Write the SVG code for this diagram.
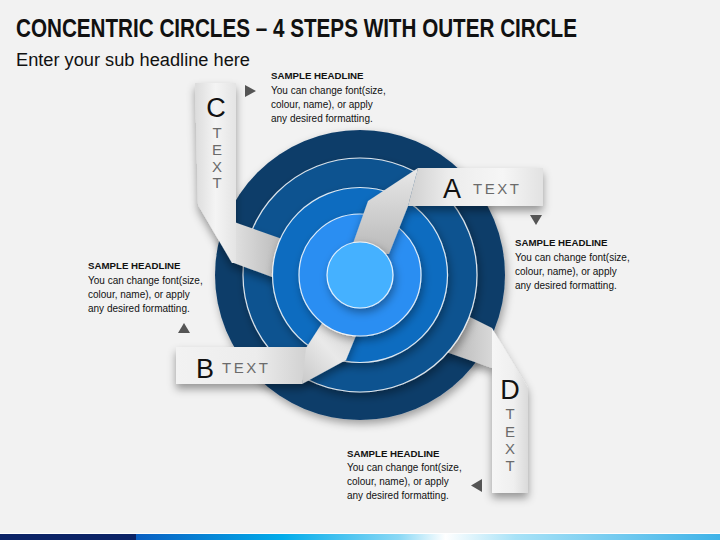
<svg xmlns="http://www.w3.org/2000/svg" width="720" height="540" viewBox="0 0 720 540">
<style>
.title{font-family:"Liberation Sans",Arial,sans-serif;font-weight:bold;font-size:25px;fill:#111}
.sub{font-family:"Liberation Sans",Arial,sans-serif;font-size:18px;fill:#111}
.hd{font-family:"Liberation Sans",Arial,sans-serif;font-weight:bold;font-size:9.7px;fill:#111}
.bd{font-family:"Liberation Sans",Arial,sans-serif;font-size:10px;fill:#111}
.big{font-family:"Liberation Sans",Arial,sans-serif;font-size:27px;fill:#111}
.tx{font-family:"Liberation Sans",Arial,sans-serif;font-size:15px;fill:#6b6b6b;letter-spacing:2.5px}
.vt{font-family:"Liberation Sans",Arial,sans-serif;font-size:15px;fill:#6b6b6b;text-anchor:middle}
.ring{stroke:#ffffff;stroke-width:1.2;stroke-opacity:0.85}
.tri{fill:#555555}
</style>
<defs>
<filter id="cshadow" x="-20%" y="-20%" width="140%" height="150%">
<feDropShadow dx="2" dy="4" stdDeviation="4" flood-color="#000" flood-opacity="0.35"/>
</filter>
<filter id="sshadow" x="-30%" y="-30%" width="160%" height="170%">
<feDropShadow dx="0" dy="5" stdDeviation="4" flood-color="#000" flood-opacity="0.38"/>
</filter>
<linearGradient id="gH" x1="0" y1="0" x2="1" y2="0">
<stop offset="0" stop-color="#cfcfcf"/><stop offset="0.3" stop-color="#ececec"/><stop offset="0.7" stop-color="#f6f6f6"/><stop offset="1" stop-color="#e2e2e2"/>
</linearGradient>
<linearGradient id="gHB" x1="0" y1="0" x2="1" y2="0">
<stop offset="0" stop-color="#f2f2f2"/><stop offset="0.6" stop-color="#ececec"/><stop offset="1" stop-color="#cfcfcf"/>
</linearGradient>
<linearGradient id="gV" x1="0" y1="0" x2="1" y2="0">
<stop offset="0" stop-color="#dcdcdc"/><stop offset="0.5" stop-color="#f4f4f4"/><stop offset="1" stop-color="#e4e4e4"/>
</linearGradient>
<linearGradient id="gVD" x1="0" y1="0" x2="1" y2="0">
<stop offset="0" stop-color="#f6f6f6"/><stop offset="0.6" stop-color="#efefef"/><stop offset="1" stop-color="#dadada"/>
</linearGradient>
<linearGradient id="gDiag" x1="0" y1="0" x2="0" y2="1">
<stop offset="0" stop-color="#e8e8e8"/><stop offset="1" stop-color="#b9b9b9"/>
</linearGradient>
<linearGradient id="gDiagB" x1="0" y1="1" x2="1" y2="0">
<stop offset="0" stop-color="#c9c9c9"/><stop offset="0.5" stop-color="#e9e9e9"/><stop offset="1" stop-color="#d0d0d0"/>
</linearGradient>
<linearGradient id="gConn" x1="0" y1="0" x2="1" y2="0">
<stop offset="0" stop-color="#e0e0e0"/><stop offset="1" stop-color="#b8b8b8"/>
</linearGradient>
<linearGradient id="gConnD" x1="1" y1="0" x2="0" y2="0">
<stop offset="0" stop-color="#d8d8d8"/><stop offset="1" stop-color="#b5b5b5"/>
</linearGradient>
<linearGradient id="gBar" x1="0" y1="0" x2="1" y2="0">
<stop offset="0" stop-color="#0a5fc2"/><stop offset="0.25" stop-color="#02acea"/><stop offset="0.45" stop-color="#8ad8f5"/><stop offset="0.53" stop-color="#ffffff"/><stop offset="0.65" stop-color="#a8e2f7"/><stop offset="1" stop-color="#3fb3e8"/>
</linearGradient>
</defs>

<rect x="0" y="0" width="720" height="540" fill="#f2f2f2"/>

<g id="header">
<text class="title" x="16" y="37" textLength="561" lengthAdjust="spacingAndGlyphs">CONCENTRIC CIRCLES – 4 STEPS WITH OUTER CIRCLE</text>
<text class="sub" x="16" y="66" textLength="234" lengthAdjust="spacingAndGlyphs">Enter your sub headline here</text>
</g>

<g id="ring-1"><circle cx="360" cy="275" r="145" fill="#0b3c69" filter="url(#cshadow)"/></g>

<g id="node-D">
<g filter="url(#sshadow)">
<polygon points="466,315 492,328 492,368 446,352" fill="url(#gConnD)"/>
<polygon points="492,328 528,388 528,493 492,493" fill="url(#gVD)"/>
</g>
<text class="big" x="510" y="399" text-anchor="middle" font-size="26">D</text>
<text class="vt" x="510" y="419">T</text>
<text class="vt" x="510" y="437">E</text>
<text class="vt" x="510" y="454">X</text>
<text class="vt" x="510" y="471">T</text>
<text class="hd" x="347" y="457">SAMPLE HEADLINE</text>
<text class="bd" x="347" y="471">You can change font(size,<tspan x="347" dy="14.2">colour, name), or apply</tspan><tspan x="347" dy="14.2">any desired formatting.</tspan></text>
</g>

<g id="ring-2"><circle class="ring" cx="360" cy="275" r="117" fill="#0d5390" filter="url(#cshadow)"/></g>

<g id="node-C">
<g filter="url(#sshadow)">
<polygon points="234,222 285,240 280,280 234,263" fill="url(#gConn)"/>
<polygon points="195,83 236,83 236,263 232,263 198,205" fill="url(#gV)"/>
</g>
<text class="big" x="216" y="117" text-anchor="middle">C</text>
<text class="vt" x="217" y="138">T</text>
<text class="vt" x="217" y="155">E</text>
<text class="vt" x="217" y="171.5">X</text>
<text class="vt" x="217" y="188">T</text>
<text class="hd" x="271" y="79">SAMPLE HEADLINE</text>
<text class="bd" x="271" y="94">You can change font(size,<tspan x="271" dy="14.2">colour, name), or apply</tspan><tspan x="271" dy="14.2">any desired formatting.</tspan></text>
</g>

<g id="ring-3"><circle class="ring" cx="360" cy="275" r="87.5" fill="#0b6cc0" filter="url(#cshadow)"/></g>

<g id="node-B">
<g filter="url(#sshadow)">
<polygon points="176,347 310,347 302,384 176,384" fill="url(#gHB)"/>
<polygon points="306,348 324,320 360,326 346,360 302,384" fill="url(#gDiagB)"/>
</g>
<text class="big" x="196" y="378" font-size="26">B</text>
<text class="tx" x="222" y="373">TEXT</text>
<text class="hd" x="88" y="269">SAMPLE HEADLINE</text>
<text class="bd" x="88" y="284">You can change font(size,<tspan x="88" dy="14.2">colour, name), or apply</tspan><tspan x="88" dy="14.2">any desired formatting.</tspan></text>
</g>

<g id="ring-4"><circle class="ring" cx="360" cy="275" r="61" fill="#2b8ef2" filter="url(#cshadow)"/></g>

<g id="node-A">
<g filter="url(#sshadow)">
<polygon points="418,168 543,168 543,206 408,206" fill="url(#gH)"/>
<polygon points="418,168 368,201 350,252 389,254 408,206" fill="url(#gDiag)"/>
</g>
<text class="big" x="443" y="198" font-size="28">A</text>
<text class="tx" x="473" y="194">TEXT</text>
<text class="hd" x="515" y="246">SAMPLE HEADLINE</text>
<text class="bd" x="515" y="260.5">You can change font(size,<tspan x="515" dy="14.2">colour, name), or apply</tspan><tspan x="515" dy="14.2">any desired formatting.</tspan></text>
</g>

<g id="ring-5"><circle class="ring" cx="360" cy="275" r="33" fill="#45b1ff" filter="url(#cshadow)"/></g>

<g id="connectors">
<polygon class="tri" points="245,85 245,97 256,91"/>
<polygon class="tri" points="530,215 542,215 536,225"/>
<polygon class="tri" points="178,333 190,333 184,323"/>
<polygon class="tri" points="482,479 482,492 471,485.5"/>
</g>

<g id="footer">
<rect x="0" y="533" width="720" height="1" fill="#ffffff"/>
<rect x="0" y="534" width="136" height="6" fill="#0b2366"/>
<rect x="136" y="534" width="584" height="6" fill="url(#gBar)"/>
</g>
</svg>
